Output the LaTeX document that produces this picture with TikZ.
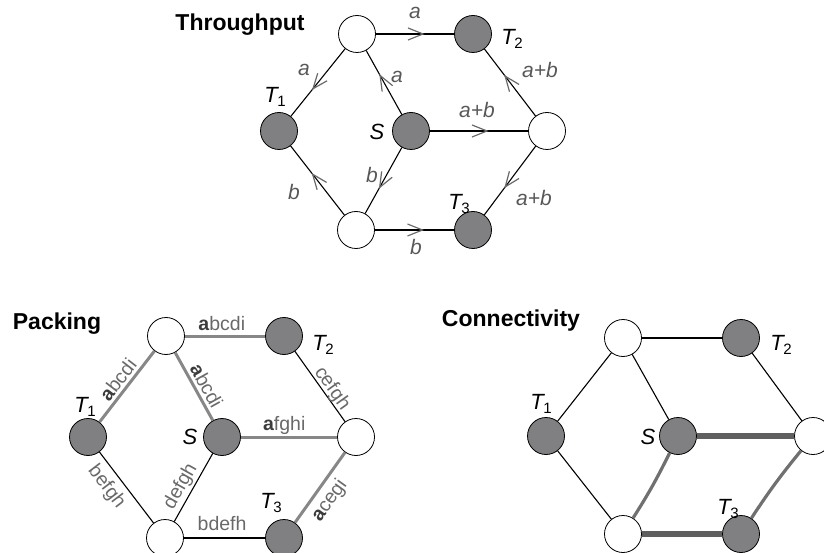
\documentclass[tikz,border=0pt]{standalone}
\usepackage{fontspec}
\setmainfont{Liberation Sans}
\usetikzlibrary{arrows.meta,decorations.markings}

\definecolor{nodegray}{RGB}{128,128,130}
\definecolor{lblgray}{RGB}{88,88,88}
\definecolor{arrgray}{RGB}{105,105,105}
\definecolor{packgray}{RGB}{135,135,135}
\definecolor{packtxt}{RGB}{105,105,105}
\definecolor{packbold}{RGB}{60,60,60}
\definecolor{conndark}{RGB}{95,95,95}
\definecolor{connmid}{RGB}{112,112,112}

\newcommand\Tlab[1]{{\itshape T}\kern-0.5pt\raisebox{-4.5pt}{\fontsize{15}{15}\selectfont #1}}
\newcommand\Blab[1]{{\bfseries\color{packbold}a}#1}

\tikzset{
  wnode/.style={circle, draw=black, line width=0.8pt, fill=white, minimum size=37pt, inner sep=0pt},
  gnode/.style={wnode, fill=nodegray},
  edgeline/.style={draw=black, line width=1.1pt},
  flow/.style={edgeline, postaction={decorate},
    decoration={markings, mark=at position 0.5 with {\draw[arrgray, line width=1.2pt, line join=miter] (-7,-6) -- (8,0) -- (-7,6);}}},
  title/.style={font=\fontsize{23}{27}\selectfont\bfseries, inner sep=0pt},
  flowlbl/.style={font=\fontsize{21}{25}\selectfont\itshape, text=lblgray, inner sep=0pt},
  nodelbl/.style={font=\fontsize{22}{26}\selectfont, text=black, inner sep=0pt},
  packlbl/.style={font=\fontsize{19.5}{23}\selectfont, text=packtxt, inner sep=0pt, text depth=0pt},
  packedge/.style={draw=packgray, line width=3pt},
  thickedge/.style={draw=conndark, line width=5.5pt},
  midedge/.style={draw=connmid, line width=3.2pt},
}

\begin{document}
\begin{tikzpicture}[x=1pt,y=-1pt]
\path[use as bounding box] (0,0) rectangle (824,553);

% ---------------- Throughput ----------------
\node[title] (t1title) at (240,25) {Throughput};
\node[wnode] (aTW) at (357,34) {};
\node[gnode] (aT2) at (473,34) {};
\node[gnode] (aT1) at (279,131) {};
\node[gnode] (aS)  at (411,131) {};
\node[wnode] (aRW) at (547,131) {};
\node[wnode] (aBW) at (356,230) {};
\node[gnode] (aT3) at (473,230) {};

\draw[flow] (aTW) -- (aT2);
\draw[flow] (aTW) -- (aT1);
\draw[flow] (aS) -- (aTW);
\draw[flow] (aS) -- (aRW);
\draw[flow] (aRW) -- (aT2);
\draw[flow] (aRW) -- (aT3);
\draw[flow] (aS) -- (aBW);
\draw[flow] (aBW) -- (aT1);
\draw[flow] (aBW) -- (aT3);

\node[flowlbl] (la1) at (415,13) {a};
\node[flowlbl] (la2) at (304,70) {a};
\node[flowlbl] (la3) at (397,77) {a};
\node[flowlbl] (la4) at (540,70) {a+b};
\node[flowlbl] (la5) at (477,110) {a+b};
\node[flowlbl] (la6) at (372,175) {b};
\node[flowlbl] (la7) at (294,192) {b};
\node[flowlbl] (la8) at (534,198) {a+b};
\node[flowlbl] (la9) at (416,247) {b};
\node[nodelbl] (laT2) at (512,39) {\Tlab{2}};
\node[nodelbl] (laT1) at (275,97) {\Tlab{1}};
\node[nodelbl] (laS)  at (377,132) {\itshape S};
\node[nodelbl] (laT3) at (459,204) {\Tlab{3}};

% ---------------- Packing ----------------
\node[title] (t2title) at (57,324) {Packing};
\node[wnode] (pTW) at (166,336) {};
\node[gnode] (pT2) at (284,336) {};
\node[gnode] (pT1) at (88,437) {};
\node[gnode] (pS)  at (222,437) {};
\node[wnode] (pRW) at (356,437) {};
\node[wnode] (pBW) at (165,538) {};
\node[gnode] (pT3) at (284,538) {};

\draw[packedge] (pTW) -- node[packlbl, pos=0.46, above=4pt] (lp1) {\Blab{bcdi}} (pT2);
\draw[packedge] (pT1) -- node[packlbl, sloped, pos=0.5, above=3pt] (lp2) {\Blab{bcdi}} (pTW);
\draw[packedge] (pTW) -- node[packlbl, sloped, pos=0.57, above=3pt] (lp3) {\Blab{bcdi}} (pS);
\draw[packedge] (pS) -- node[packlbl, pos=0.45, above=5pt] (lp5) {\Blab{fghi}} (pRW);
\draw[packedge] (pRW) -- node[packlbl, sloped, pos=0.56, below=5pt] (lp8) {\Blab{cegi}} (pT3);
\draw[edgeline] (pT2) -- node[packlbl, sloped, pos=0.6, above=3pt] (lp4) {cefgh} (pRW);
\draw[edgeline] (pT1) -- node[packlbl, sloped, pos=0.36, below=6pt] (lp6) {befgh} (pBW);
\draw[edgeline] (pS) -- node[packlbl, sloped, pos=0.57, above=6pt] (lp7) {defgh} (pBW);
\draw[edgeline] (pBW) -- node[packlbl, pos=0.47, above=7pt] (lp9) {bdefh} (pT3);

\node[nodelbl] (lpT2) at (323,345) {\Tlab{2}};
\node[nodelbl] (lpT1) at (85,407) {\Tlab{1}};
\node[nodelbl] (lpS)  at (190,437) {\itshape S};
\node[nodelbl] (lpT3) at (271,503) {\Tlab{3}};

% ---------------- Connectivity ----------------
\node[title] (t3title) at (511,321) {Connectivity};
\node[wnode] (cTW) at (623,338) {};
\node[gnode] (cT2) at (741,338) {};
\node[gnode] (cT1) at (546,436) {};
\node[gnode] (cS)  at (678,436) {};
\node[wnode] (cRW) at (813,436) {};
\node[wnode] (cBW) at (623,534) {};
\node[gnode] (cT3) at (741,534) {};

\draw[edgeline] (cTW) -- (cT2);
\draw[edgeline] (cTW) -- (cT1);
\draw[edgeline] (cTW) -- (cS);
\draw[edgeline] (cT2) -- (cRW);
\draw[edgeline] (cT1) -- (cBW);
\draw[thickedge] (cS) -- (cRW);
\draw[thickedge] (cBW) -- (cT3);
\draw[midedge] (cS) to[bend left=3] (cBW);
\draw[midedge] (cRW) to[bend right=3] (cT3);

\node[nodelbl] (lcT2) at (781,345) {\Tlab{2}};
\node[nodelbl] (lcT1) at (541,404) {\Tlab{1}};
\node[nodelbl] (lcS)  at (648,437) {\itshape S};
\node[nodelbl] (lcT3) at (728,509) {\Tlab{3}};
\end{tikzpicture}
\end{document}
